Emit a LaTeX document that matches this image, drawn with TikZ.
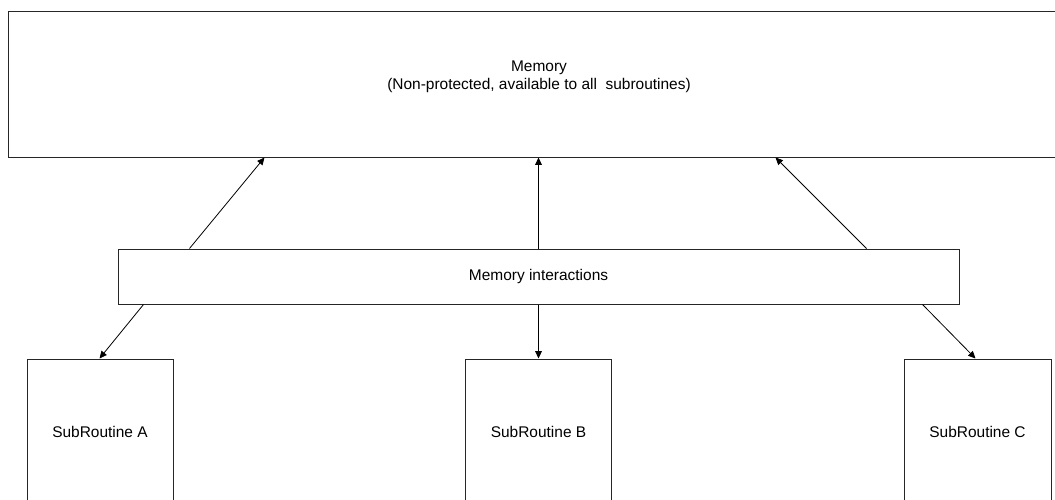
\documentclass[tikz,border=0pt]{standalone}
\usepackage{fontspec}
\setmainfont{Liberation Sans}
\usetikzlibrary{arrows.meta,calc}
\begin{document}
\begin{tikzpicture}[x=0.75pt,y=-0.75pt,
  lbl/.style={font=\fontsize{11.6}{13.5}\selectfont},
  box/.style={lbl,draw=black!85,line width=0.75pt,rectangle,inner sep=0pt},
  arr/.style={draw=black,line width=0.6pt,
              -{Triangle[length=5.5pt,width=5pt]}}]
\clip (0,0) rectangle (1055,499);
\fill[white] (0,0) rectangle (1055,499);

% shared memory block (runs past the right edge)
\node[box,minimum width=792.75pt,minimum height=108.75pt] (mem) at (536.5,84.5) {};
\node[lbl,align=center] (memtxt) at (539,77)
  {Memory\\(Non-protected, available to all\ \ subroutines)};

% interaction layer
\node[box,minimum width=630.75pt,minimum height=41.25pt] (inter) at (538.5,276.5)
  {Memory interactions};

% subroutines
\node[box,minimum width=109.5pt,minimum height=109.5pt] (subA) at (100,432) {SubRoutine A};
\node[box,minimum width=109.5pt,minimum height=109.5pt] (subB) at (538.5,432) {SubRoutine B};
\node[box,minimum width=110.25pt,minimum height=109.5pt] (subC) at (977.5,432) {SubRoutine C};

% upward connectors to memory
\draw[arr] ($(inter.north west)+(72,0)$) -- ($(mem.south west)+(257,0)$);
\draw[arr] (inter.north) -- (inter.north |- mem.south);
\draw[arr] ($(inter.north west)+(749,0)$) -- ($(mem.south west)+(768,0)$);

% downward connectors to subroutines
\draw[arr] ($(inter.south west)+(26,0)$) -- ($(subA.north west)+(73,0)$);
\draw[arr] (inter.south) -- (subB.north);
\draw[arr] ($(inter.south west)+(805,0)$) -- ($(subC.north west)+(72,0)$);
\end{tikzpicture}
\end{document}
